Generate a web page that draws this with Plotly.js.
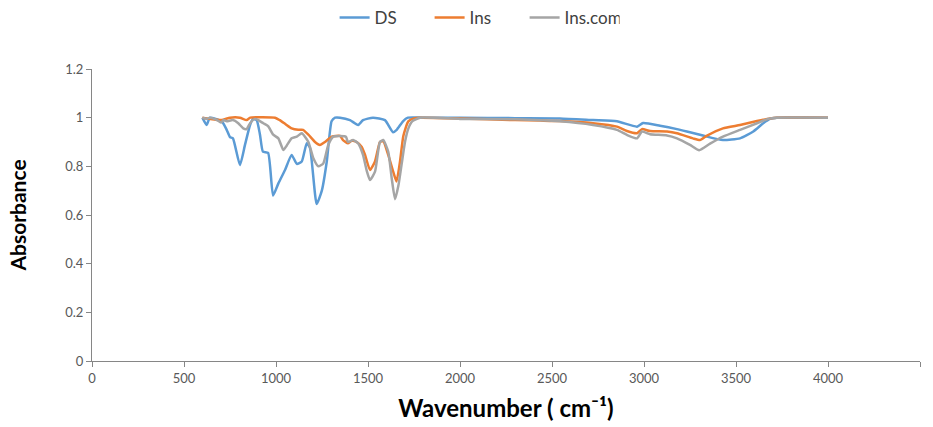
<!DOCTYPE html>
<html>
<head>
<meta charset="utf-8">
<script src="https://cdn.plot.ly/plotly-3.0.1.min.js"></script>
<style>html,body{margin:0;padding:0;background:#fff;}#chart{width:933px;height:427px;}</style>
</head>
<body>
<div id="chart"></div>
<script>
const seriesNames = ["DS", "Ins", "Ins.com"];

const dsX = [600,623,641,705,732,750,766,804,832,859,875,895,913,929,957,984,1013,1049,1085,1113,1140,1167,1185,1221,1249,1276,1302,1321,1348,1402,1446,1473,1527,1592,1636,1656,1690,1717,1800,2000,2300,2543,2723,2853,2962,2995,3087,3179,3250,3304,3342,3429,3522,3594,3648,3685,3722,4000];
const dsY = [1.0,0.97,1.0,0.985,0.95,0.92,0.915,0.805,0.89,0.97,0.995,0.99,0.93,0.86,0.855,0.68,0.73,0.785,0.847,0.81,0.82,0.895,0.875,0.645,0.70,0.82,0.985,1.0,1.0,0.99,0.97,0.99,1.0,0.99,0.94,0.95,0.985,1.0,1.0,1.0,0.998,0.997,0.99,0.985,0.963,0.978,0.967,0.953,0.94,0.93,0.922,0.908,0.915,0.943,0.977,0.995,1.0,1.0];

const insX = [600,640,705,750,804,840,860,995,1020,1049,1085,1121,1147,1176,1212,1239,1266,1303,1348,1364,1391,1411,1438,1466,1484,1511,1538,1565,1583,1610,1637,1655,1674,1692,1719,1750,1783,2000,2300,2435,2543,2723,2853,2907,2962,2989,3033,3125,3179,3266,3304,3340,3429,3522,3614,3685,3722,4000];
const insY = [1.0,0.995,0.99,1.0,1.0,0.99,1.0,1.0,0.99,0.975,0.956,0.95,0.95,0.93,0.90,0.888,0.90,0.922,0.925,0.908,0.895,0.905,0.90,0.88,0.847,0.785,0.82,0.90,0.904,0.847,0.778,0.738,0.82,0.925,0.985,0.997,1.0,0.997,0.99,0.988,0.986,0.977,0.963,0.945,0.936,0.953,0.945,0.943,0.936,0.915,0.908,0.925,0.956,0.97,0.986,0.997,1.0,1.0];

const comX = [600,623,641,680,700,715,732,766,795,822,840,859,886,904,931,957,985,1013,1040,1058,1085,1113,1140,1176,1203,1230,1257,1284,1311,1348,1380,1391,1419,1446,1473,1492,1511,1538,1565,1583,1610,1629,1647,1665,1683,1701,1719,1740,1783,2000,2300,2543,2723,2853,2907,2962,2989,3033,3125,3179,3250,3300,3359,3429,3522,3614,3674,3722,4000];
const comY = [1.0,0.995,1.0,0.99,0.98,0.99,0.985,0.99,0.977,0.956,0.953,0.977,0.995,0.99,0.977,0.965,0.93,0.915,0.867,0.885,0.915,0.922,0.936,0.90,0.833,0.80,0.812,0.888,0.922,0.925,0.922,0.90,0.908,0.895,0.847,0.785,0.744,0.778,0.90,0.908,0.86,0.75,0.665,0.72,0.81,0.90,0.955,0.985,1.0,0.995,0.993,0.985,0.97,0.95,0.929,0.915,0.943,0.932,0.927,0.915,0.888,0.866,0.893,0.922,0.95,0.977,0.995,1.0,1.0];

const colors = ["#5B9BD5", "#ED7D31", "#A5A5A5"];
const xs = [dsX, insX, comX];
const ys = [dsY, insY, comY];

const traces = seriesNames.map((n, i) => ({
  type: "scatter",
  mode: "lines",
  name: n,
  x: xs[i],
  y: ys[i],
  line: {color: colors[i], width: 2.5, shape: "spline", smoothing: 0.5}
}));

const FONT = "Lato, 'Open Sans', sans-serif";

const axisCommon = {
  showgrid: false,
  zeroline: false,
  showline: true,
  linecolor: "#868686",
  linewidth: 1,
  ticks: "outside",
  ticklen: 5,
  tickcolor: "#868686",
  tickfont: {family: FONT, size: 13, color: "#595959"}
};

const layout = {
  width: 933,
  height: 427,
  margin: {l: 92, r: 13, t: 69, b: 66, autoexpand: false},
  paper_bgcolor: "#fff",
  plot_bgcolor: "#fff",
  showlegend: true,
  legend: {
    orientation: "h",
    x: 0.293, xanchor: "left",
    y: 1.175, yanchor: "middle",
    entrywidth: 50,
    entrywidthmode: "pixels",
    font: {family: FONT, size: 17, color: "#404040"}
  },
  xaxis: Object.assign({}, axisCommon, {
    range: [0, 4500],
    dtick: 500,
    tick0: 0,
    title: {text: "Wavenumber ( cm⁻¹)", font: {family: FONT, size: 24, color: "#000", weight: "bold"}, standoff: 15}
  }),
  yaxis: Object.assign({}, axisCommon, {
    range: [0, 1.2],
    dtick: 0.2,
    tick0: 0,
    title: {text: "Absorbance", font: {family: FONT, size: 21, color: "#000", weight: "bold"}, standoff: 32}
  })
};

Plotly.newPlot("chart", traces, layout, {displayModeBar: false, staticPlot: true});
</script>
</body>
</html>
